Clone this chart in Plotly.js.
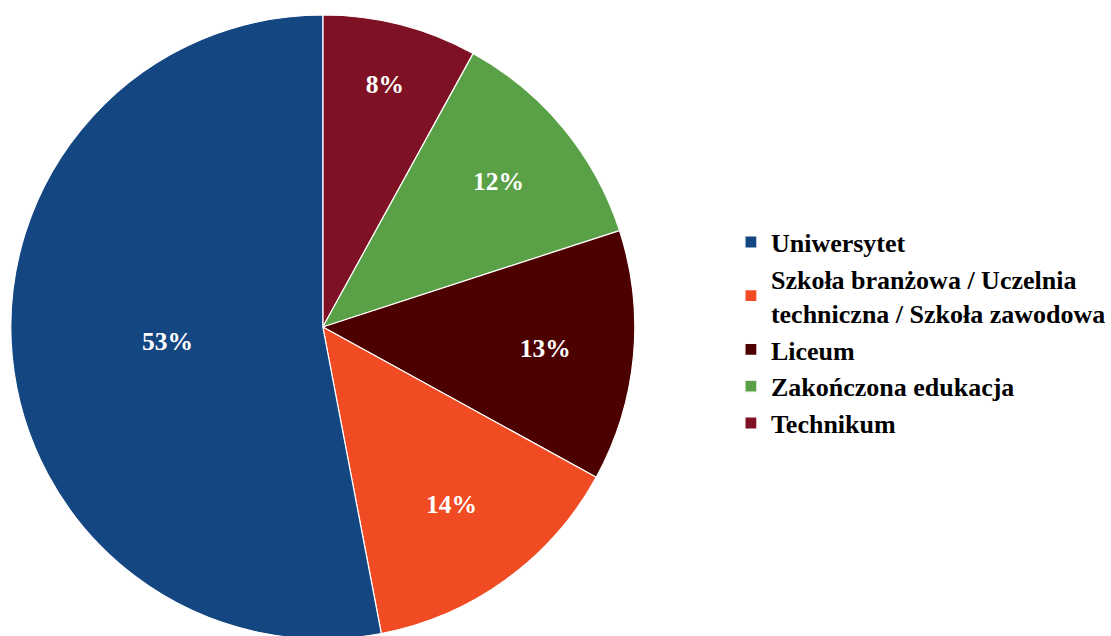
<!DOCTYPE html>
<html>
<head>
<meta charset="utf-8">
<script src="https://cdn.plot.ly/plotly-3.0.1.min.js"></script>
<style>
html, body { margin: 0; padding: 0; overflow: hidden; background: #fff; }
#chart { width: 1111px; height: 650px; }
</style>
</head>
<body>
<div id="chart"></div>
<script>
// Slices listed clockwise from 12 o'clock; the legend shows them in reverse order.
var categories = [
  "Technikum",
  "Zakończona edukacja",
  "Liceum",
  "Szkoła branżowa / Uczelnia<br>techniczna / Szkoła zawodowa",
  "Uniwersytet"
];
var shares = [8, 12, 13, 14, 53];
var sliceColors = ["#7F1124", "#5AA046", "#4C0000", "#F04B23", "#144682"];

var serif = "'Liberation Serif', 'Times New Roman', Times, serif";

var trace = {
  type: "pie",
  labels: categories,
  values: shares,
  sort: false,
  direction: "clockwise",
  rotation: 0,
  marker: { colors: sliceColors, line: { color: "#ffffff", width: 1.2 } },
  texttemplate: "%{percent:.0%}",
  textposition: "inside",
  insidetextorientation: "horizontal",
  insidetextfont: { family: serif, size: 25.5, color: "#ffffff", weight: "bold" },
  hoverinfo: "label+percent",
  domain: { x: [0, 0.5745], y: [0, 1] }
};

var layout = {
  width: 1111,
  height: 650,
  margin: { l: 10, r: 0, t: 15, b: 11 },
  paper_bgcolor: "#ffffff",
  plot_bgcolor: "#ffffff",
  showlegend: true,
  legend: {
    x: 0.662, xanchor: "left",
    y: 0.491, yanchor: "middle",
    font: { family: serif, size: 26, color: "#000000", weight: "bold" },
    bgcolor: "rgba(0,0,0,0)",
    traceorder: "reversed"
  },
  font: { family: serif }
};

Plotly.newPlot("chart", [trace], layout, { displayModeBar: false, staticPlot: true });
</script>
</body>
</html>
